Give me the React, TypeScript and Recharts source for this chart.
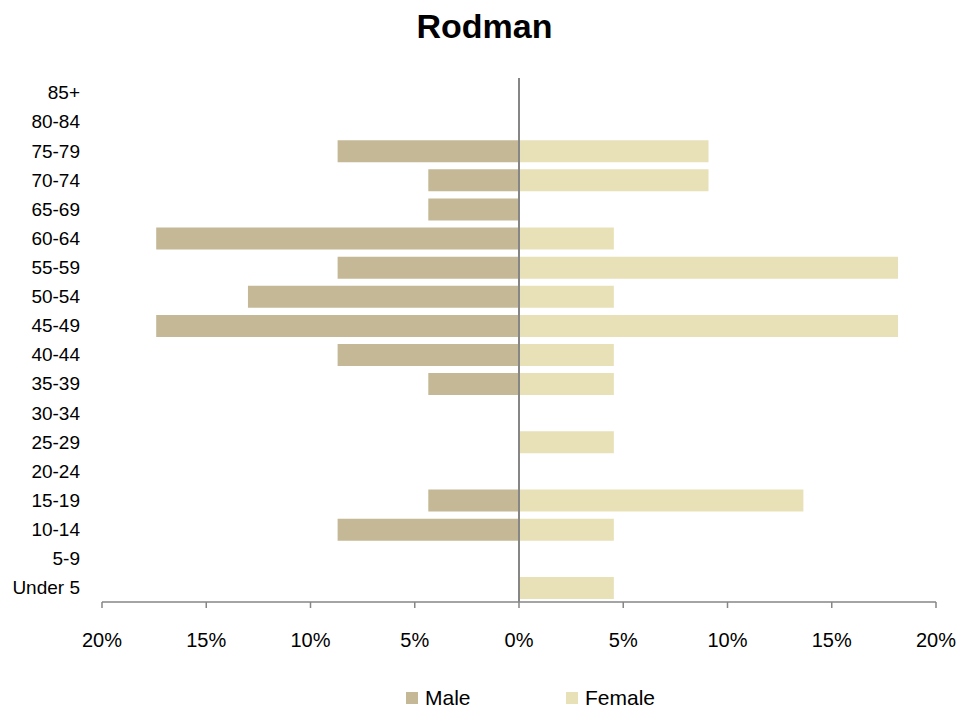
import { BarChart, Bar, XAxis, YAxis, ReferenceLine, Legend } from 'recharts'

const ageGroups = ['Under 5', '5-9', '10-14', '15-19', '20-24', '25-29', '30-34', '35-39', '40-44', '45-49', '50-54', '55-59', '60-64', '65-69', '70-74', '75-79', '80-84', '85+']
const malePct = [0, 0, 8.7, 4.35, 0, 0, 0, 4.35, 8.7, 17.4, 13.0, 8.7, 17.4, 4.35, 4.35, 8.7, 0, 0]
const femalePct = [4.55, 0, 4.55, 13.64, 0, 4.55, 0, 4.55, 4.55, 18.18, 4.55, 18.18, 4.55, 0, 9.09, 9.09, 0, 0]
const xTicks = [-20, -15, -10, -5, 0, 5, 10, 15, 20]

const data = ageGroups.map((age, i) => ({
  age,
  male: -malePct[i],
  female: femalePct[i],
}))

const FONT = '"Liberation Sans", Arial, sans-serif'
const MALE = '#C4B896'
const FEMALE = '#E8E1B8'
const AXIS = '#868686'

function LegendBox() {
  const item = (color: string, label: string, left: number) => (
    <div style={{ position: 'absolute', left, top: 0, height: 30, display: 'flex', alignItems: 'center' }}>
      <span style={{ width: 12, height: 12, background: color, display: 'inline-block', marginRight: 7 }} />
      <span style={{ fontSize: 21, color: '#000' }}>{label}</span>
    </div>
  )
  return (
    <div style={{ position: 'relative', height: 30, width: 979, fontFamily: FONT }}>
      {item(MALE, 'Male', 406)}
      {item(FEMALE, 'Female', 566)}
    </div>
  )
}

export default function App() {
  return (
    <div style={{ position: 'absolute', left: 0, top: 0, width: 979, height: 713, background: '#fff', fontFamily: FONT }}>
      <div style={{ position: 'absolute', left: 0, width: 979, top: 7, textAlign: 'center', fontSize: 34, fontWeight: 'bold', color: '#000', paddingRight: 10, boxSizing: 'border-box' }}>
        Rodman
      </div>
      <BarChart
        width={979}
        height={713}
        data={data}
        layout="vertical"
        stackOffset="sign"
        barSize={22}
        margin={{ top: 78, right: 43, bottom: 0, left: 0 }}
      >
        <XAxis
          type="number"
          domain={[-20, 20]}
          ticks={xTicks}
          tickFormatter={(v: number) => `${Math.abs(v)}%`}
          axisLine={{ stroke: AXIS, strokeWidth: 1.5 }}
          tickLine={{ stroke: AXIS, strokeWidth: 1.5 }}
          tickSize={6}
          tickMargin={25}
          tick={{ fontSize: 20, fill: '#000', fontFamily: FONT }}
          height={81}
          allowDataOverflow
        />
        <YAxis
          type="category"
          dataKey="age"
          reversed
          width={102}
          axisLine={false}
          tickLine={false}
          tickSize={0}
          tickMargin={22}
          interval={0}
          tick={{ fontSize: 19, fill: '#000', fontFamily: FONT }}
        />
        <Legend verticalAlign="bottom" content={() => <LegendBox />} wrapperStyle={{ left: 0, width: 979 }} />
        <Bar dataKey="male" name="Male" stackId="a" fill={MALE} isAnimationActive={false} />
        <Bar dataKey="female" name="Female" stackId="a" fill={FEMALE} isAnimationActive={false} />
        <ReferenceLine x={0} stroke={AXIS} strokeWidth={2} />
      </BarChart>
    </div>
  )
}
